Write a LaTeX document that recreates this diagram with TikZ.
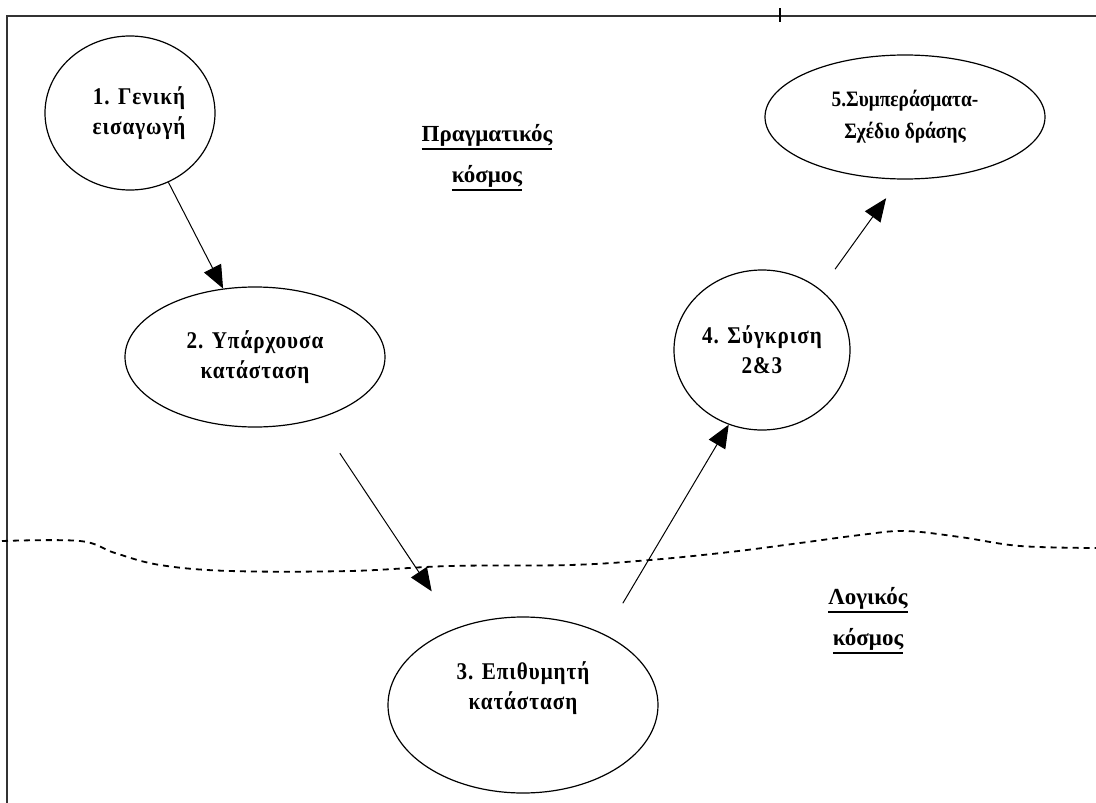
\documentclass[tikz,border=0pt]{standalone}
\usepackage{fontspec}
\setmainfont{Liberation Serif}
\newfontfamily\stagefont[LetterSpace=4,FakeStretch=0.88]{Liberation Serif}
\newfontfamily\tightfont[FakeStretch=0.88]{Liberation Serif}
\usetikzlibrary{shapes.geometric,arrows.meta}
% thick underline for the region labels
\newcommand\thickul[1]{\vtop{\hbox{#1}\kern1.5pt\hrule height 1.8pt}}
\begin{document}
\begin{tikzpicture}[x=1pt,y=-1pt,
  stage/.style={ellipse,draw,line width=1.2pt,inner sep=0pt,align=center,
    font=\stagefont\bfseries\fontsize{24}{30}\selectfont},
  flow/.style={line width=1pt,-{Triangle[length=23pt,width=19pt]}},
  world/.style={align=center,font=\bfseries\fontsize{23}{41}\selectfont},
  border/.style={line width=1.5pt,black!80},
  divide/.style={line width=1.8pt,dash pattern=on 6pt off 5pt}]
\useasboundingbox (0,0) rectangle (1096,803);

% page frame and marker
\draw[border] (7,803) -- (7,16) -- (1096,16);
\draw[line width=2.2pt] (780,8) -- (780,22);

% boundary between the real and the logical world
\draw[divide] plot[smooth,tension=0.6] coordinates {
  (2,541) (80,541) (115,553) (160,565) (230,571) (350,571) (450,566)
  (570,565) (650,560) (730,552) (800,543) (860,535) (905,531)
  (960,537) (1020,546) (1096,548)};

% stages
\node[stage,minimum width=170pt,minimum height=154pt] (e1) at (130,113)
  {\hspace*{18pt}1. Γενική\\\hspace*{18pt}εισαγωγή};
\node[stage,minimum width=260pt,minimum height=140pt] (e2) at (255,357) {2. Υπάρχουσα\\κατάσταση};
\node[stage,minimum width=270pt,minimum height=176pt] (e3) at (523,705) {3. Επιθυμητή\\κατάσταση\\[8pt]};
\node[stage,minimum width=176pt,minimum height=160pt] (e4) at (762,350) {4. Σύγκριση\\2\&3};
\node[stage,minimum width=280pt,minimum height=124pt,
  font=\tightfont\bfseries\fontsize{22}{32}\selectfont] (e5) at (905,117) {5.Συμπεράσματα-\\Σχέδιο δράσης};

% region labels
\node[world] (real) at (487,158) {\thickul{Πραγματικός}\\\thickul{κόσμος}};
\node[world] (logic) at (868,621) {\thickul{Λογικός}\\\thickul{κόσμος}};

% flow between stages
\draw[flow] (e1.-61) -- (e2.115);
\draw[flow,shorten <=41pt,shorten >=44pt] (e2.-45) -- (e3.131);
\draw[flow,shorten <=36pt] (e3.41) -- (e4.-114);
\draw[flow,shorten <=25pt,shorten >=23pt] (e4.46) -- (e5.-95);
\end{tikzpicture}
\end{document}
